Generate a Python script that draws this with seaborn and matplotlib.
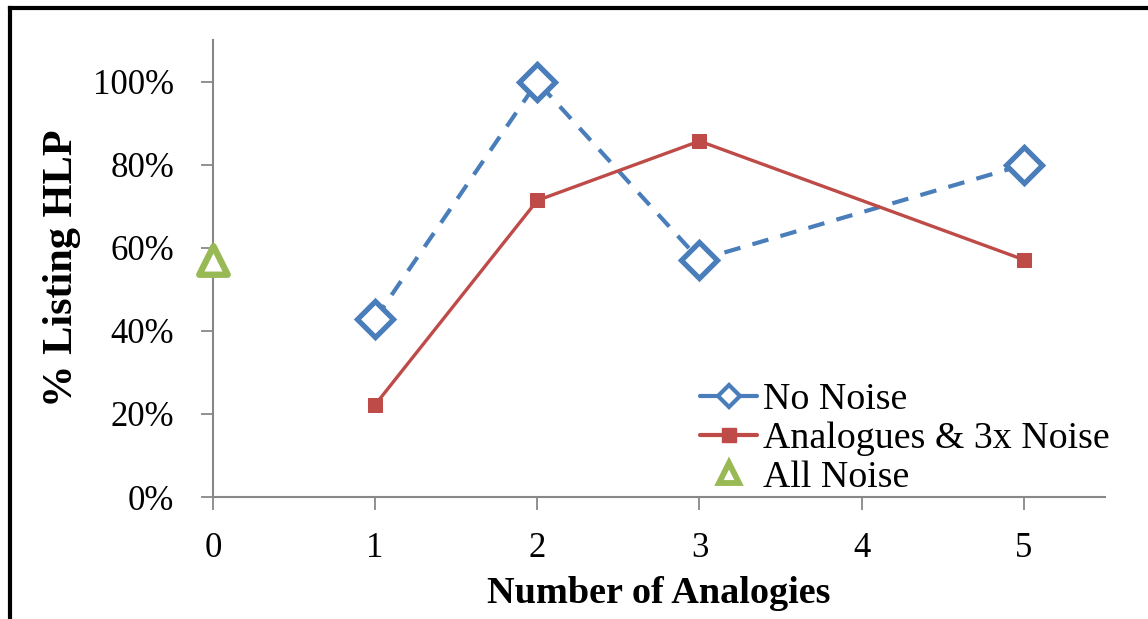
import matplotlib
matplotlib.use("Agg")
import matplotlib.pyplot as plt
from matplotlib.lines import Line2D
from matplotlib.ticker import PercentFormatter
import seaborn as sns
import pandas as pd

# Share of runs listing HLP, by number of analogies
no_noise_x = [1, 2, 3, 5]
no_noise_y = [0.4286, 1.0, 0.5714, 0.80]
analog_noise_x = [1, 2, 3, 5]
analog_noise_y = [0.2222, 0.7143, 0.8571, 0.5714]
all_noise_x = [0]
all_noise_y = [0.5714]

x_ticks = [0, 1, 2, 3, 4, 5]
y_ticks = [0, 0.2, 0.4, 0.6, 0.8, 1.0]

series_names = ["No Noise", "Analogues & 3x Noise", "All Noise"]

BLUE = "#4A7EBB"
RED = "#BE4B48"
GREEN = "#98B954"
GRID = "#888888"

sns.set_theme(style="white")
plt.rcParams["font.family"] = ["Liberation Serif", "DejaVu Serif"]
plt.rcParams["text.color"] = "black"
plt.rcParams["axes.labelcolor"] = "black"

fig = plt.figure(figsize=(11.48, 6.19), dpi=100)
ax = fig.add_axes([0.1855, 0.197, 0.777, 0.738])

df_a = pd.DataFrame({"x": no_noise_x, "y": no_noise_y})
df_b = pd.DataFrame({"x": analog_noise_x, "y": analog_noise_y})
df_c = pd.DataFrame({"x": all_noise_x, "y": all_noise_y})

sns.lineplot(data=df_a, x="x", y="y", ax=ax, color=BLUE, lw=3.0,
             linestyle=(0, (4, 3)), marker="D", markersize=18,
             markerfacecolor="white", markeredgecolor=BLUE,
             markeredgewidth=3.8, zorder=3, legend=False)
sns.lineplot(data=df_b, x="x", y="y", ax=ax, color=RED, lw=2.4,
             marker="s", markersize=10, markerfacecolor=RED,
             markeredgecolor=RED, zorder=4, legend=False)
sns.scatterplot(data=df_c, x="x", y="y", ax=ax, marker="^", s=420,
                facecolor="white", edgecolor=GREEN, linewidth=4.6,
                zorder=5, legend=False, clip_on=False)

ax.set_xlim(0, 5.5)
ax.set_ylim(0, 1.1)
ax.set_xticks(x_ticks)
ax.set_yticks(y_ticks)
ax.yaxis.set_major_formatter(PercentFormatter(1.0, decimals=0))

for side in ("top", "right"):
    ax.spines[side].set_visible(False)
for side in ("left", "bottom"):
    ax.spines[side].set_color(GRID)
    ax.spines[side].set_linewidth(1.5)

ax.tick_params(axis="both", which="major", direction="out", length=9,
               width=1.3, color=GRID, labelsize=25, labelcolor="black",
               bottom=True, left=True)
ax.tick_params(axis="x", pad=16)
ax.tick_params(axis="y", pad=19)

ax.set_xlabel("Number of Analogies", fontsize=27.5, fontweight="bold",
              labelpad=8)
ax.set_ylabel("% Listing HLP", fontsize=30.5, fontweight="bold",
              labelpad=8.5)

handles = [
    Line2D([], [], color=BLUE, lw=3.0, marker="D", markersize=11,
           markerfacecolor="white", markeredgecolor=BLUE, markeredgewidth=3),
    Line2D([], [], color=RED, lw=3.0, marker="s", markersize=10,
           markerfacecolor=RED, markeredgecolor=RED),
    Line2D([], [], ls="none", marker="^", markersize=14,
           markerfacecolor="white", markeredgecolor=GREEN,
           markeredgewidth=4.2),
]
ax.legend(handles, series_names, loc="upper left",
          bbox_to_anchor=(0.610, 0.382), bbox_transform=fig.transFigure,
          frameon=False, fontsize=27.3, handlelength=1.5, handletextpad=0.15,
          labelspacing=0.11, borderpad=0.0, borderaxespad=0.0)

# Outer frame: left and top edges
fig.add_artist(Line2D([0.0085, 0.0085], [0, 0.9865], color="black", lw=3.0,
                      transform=fig.transFigure, solid_capstyle="projecting"))
fig.add_artist(Line2D([0.0085, 1.0], [0.9865, 0.9865], color="black", lw=3.0,
                      transform=fig.transFigure, solid_capstyle="projecting"))

fig.savefig("out.png", dpi=100, facecolor="white")
